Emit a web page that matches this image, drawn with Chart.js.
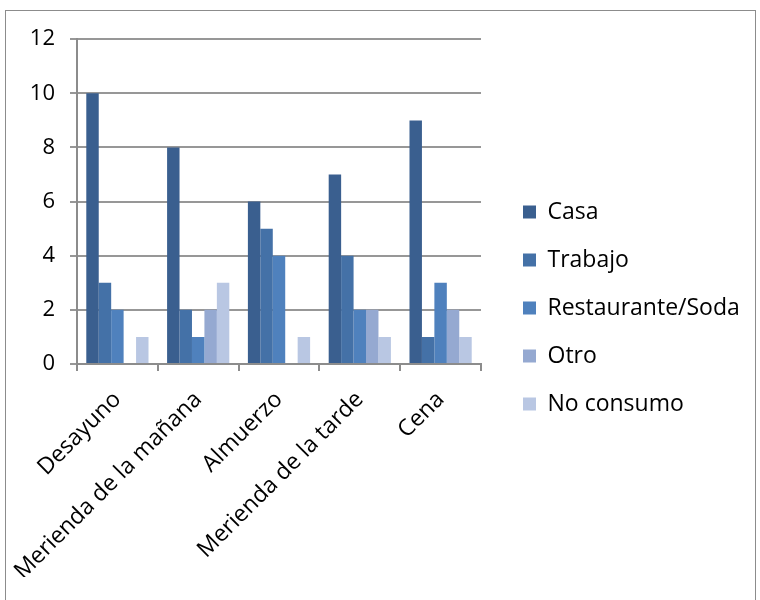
<!DOCTYPE html>
<html>
<head>
<meta charset="utf-8">
<script src="https://cdn.jsdelivr.net/npm/chart.js@4"></script>
<style>
  body { margin: 0; background: #fff; }
  #frame {
    position: absolute; left: 5px; top: 10px;
    width: 749px; height: 600px;
    border: 1px solid #8c8c8c; border-bottom: none;
  }
  canvas { display: block; }
</style>
</head>
<body>
<div id="frame"><canvas id="mealChart" width="749" height="589"></canvas></div>
<script>
// data
const meals = ["Desayuno", "Merienda de la mañana", "Almuerzo", "Merienda de la tarde", "Cena"];
const casa = [10, 8, 6, 7, 9];
const trabajo = [3, 2, 5, 4, 1];
const restaurante = [2, 1, 4, 2, 3];
const otro = [0, 2, 0, 2, 2];
const noConsumo = [1, 3, 1, 1, 1];
const yTicks = [0, 2, 4, 6, 8, 10, 12];

const font = "'Open Sans', Lato, sans-serif";

function series(label, data, color) {
  return {
    label: label,
    data: data,
    backgroundColor: color,
    borderWidth: 0,
    categoryPercentage: 0.77,
    barPercentage: 1.0
  };
}

// keep the legend column a fixed width and nudge its items right
const legendBox = {
  id: 'legendBox',
  afterInit(chart) {
    const legend = chart.legend;
    const fit = legend.fit;
    legend.fit = function () {
      fit.call(this);
      this.width = 274;
    };
  },
  afterLayout(chart) {
    chart.legend.left += 17;
    chart.legend.right += 17;
  }
};

const ctx = document.getElementById('mealChart').getContext('2d');
new Chart(ctx, {
  type: "bar",
  data: {
    labels: meals,
    datasets: [
      series("Casa", casa, "#3a5f8f"),
      series("Trabajo", trabajo, "#4471a7"),
      series("Restaurante/Soda", restaurante, "#4f81bd"),
      series("Otro", otro, "#95a9d1"),
      series("No consumo", noConsumo, "#b9c7e3")
    ]
  },
  plugins: [legendBox],
  options: {
    responsive: false,
    animation: false,
    layout: { padding: { top: 28, left: 0, right: 0, bottom: 23 } },
    plugins: {
      legend: {
        position: "right",
        labels: {
          color: "#000",
          font: { family: font, size: 23 },
          boxWidth: 13,
          boxHeight: 13,
          padding: 25
        }
      },
      tooltip: { enabled: false }
    },
    scales: {
      x: {
        afterFit: function (scale) { scale.height = 213; },
        grid: {
          drawOnChartArea: false,
          drawTicks: true,
          tickLength: 7,
          color: "#8c8c8c",
          lineWidth: 2
        },
        border: { color: "#8c8c8c", width: 2 },
        ticks: {
          color: "#000",
          padding: 15,
          font: { family: font, size: 23 },
          maxRotation: 45,
          minRotation: 45,
          autoSkip: false
        }
      },
      y: {
        min: 0,
        max: 12,
        afterFit: function (scale) { scale.width = 71; },
        afterBuildTicks: function (axis) {
          axis.ticks = yTicks.map(v => ({ value: v }));
        },
        grid: {
          color: "#979797",
          lineWidth: 2,
          tickLength: 7
        },
        border: { color: "#8c8c8c", width: 2 },
        ticks: {
          color: "#000",
          padding: 15,
          font: { family: font, size: 22 }
        }
      }
    }
  }
});
</script>
</body>
</html>
